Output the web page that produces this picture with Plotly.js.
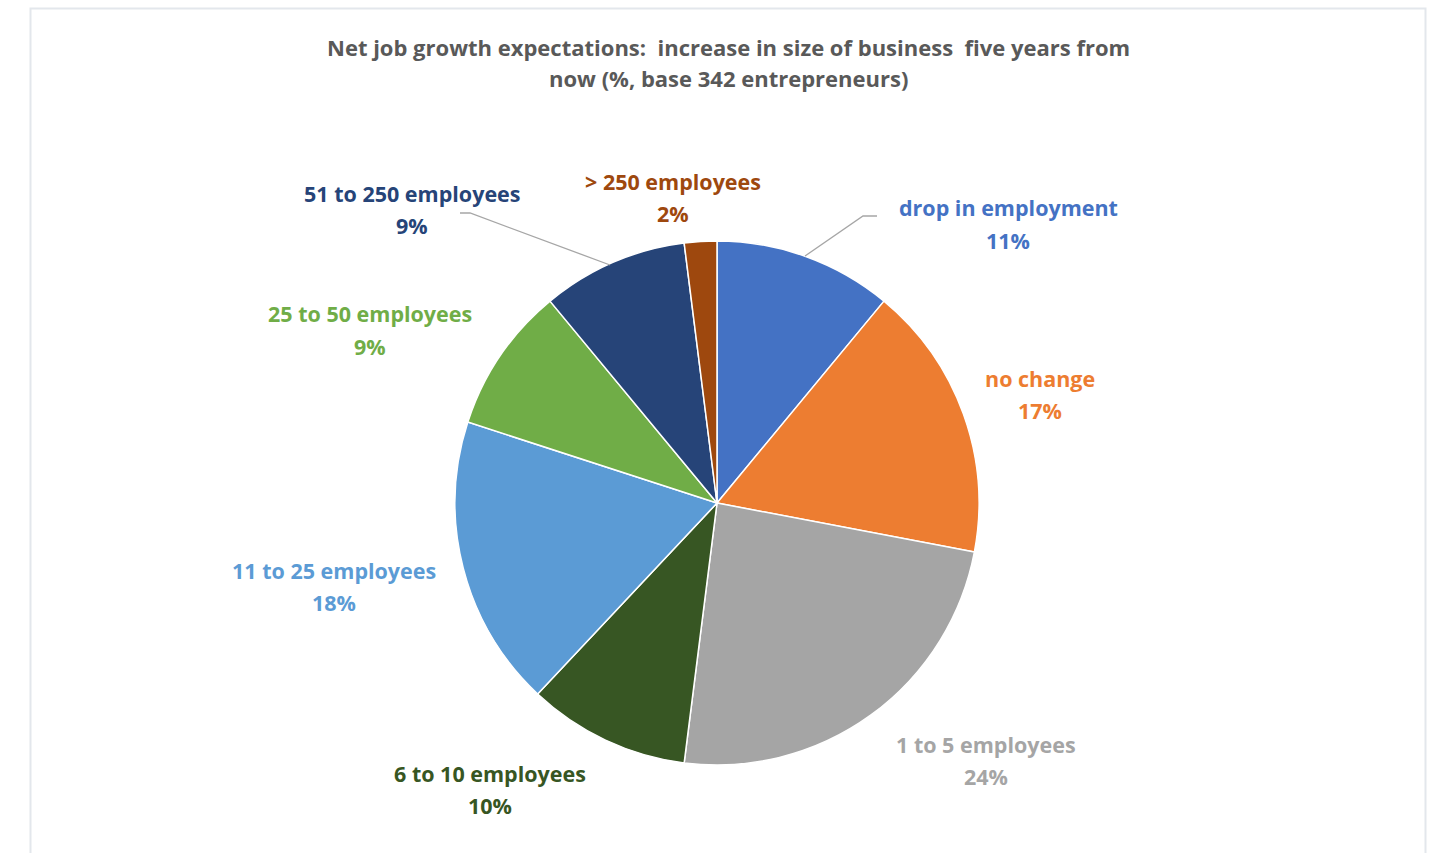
<!DOCTYPE html>
<html>
<head>
<meta charset="utf-8">
<script src="https://cdn.plot.ly/plotly-3.0.1.min.js"></script>
<style>html,body{margin:0;padding:0;background:#fff;}#chart{width:1433px;height:853px;}</style>
</head>
<body>
<div id="chart"></div>
<script>
// ---- data ----
const categories = ["drop in employment", "no change", "1 to 5 employees", "6 to 10 employees",
  "11 to 25 employees", "25 to 50 employees", "51 to 250 employees", "> 250 employees"];
const shares = [11, 17, 24, 10, 18, 9, 9, 2];
const sliceColors = ["#4472C4", "#ED7D31", "#A5A5A5", "#375623", "#5B9BD5", "#70AD47", "#264478", "#9E480E"];
const titleLines = ["Net job growth expectations:  increase in size of business  five years from",
  "now (%, base 342 entrepreneurs)"];

// ---- layout helpers (label placement, pixels) ----
const W = 1433, H = 853;
const labelPos = [[1008, 208], [1040, 378], [986, 744], [490, 773], [334, 570], [370, 314], [412, 194], [673, 181]];
const px = x => x / W, py = y => 1 - y / H;
const FONT = "'Open Sans', Lato, sans-serif";

const annotations = [];
const total = shares.reduce((a, b) => a + b, 0);
categories.forEach((c, i) => {
  const pct = Math.round(shares[i] / total * 100) + "%";
  annotations.push({xref: "paper", yref: "paper", x: px(labelPos[i][0]), y: py(labelPos[i][1]),
    xanchor: "center", yanchor: "middle", showarrow: false, text: "<b>" + c + "</b>",
    font: {family: FONT, size: 21.5, color: sliceColors[i]}});
  annotations.push({xref: "paper", yref: "paper", x: px(labelPos[i][0]), y: py(labelPos[i][1] + 32),
    xanchor: "center", yanchor: "middle", showarrow: false, text: "<b>" + pct + "</b>",
    font: {family: FONT, size: 21.5, color: sliceColors[i]}});
});
annotations.push({xref: "paper", yref: "paper", x: px(728), y: py(47), xanchor: "center", yanchor: "middle",
  showarrow: false, text: "<b>" + titleLines[0] + "</b>", font: {family: FONT, size: 22, color: "#595959"}});
annotations.push({xref: "paper", yref: "paper", x: px(728), y: py(78), xanchor: "center", yanchor: "middle",
  showarrow: false, text: "<b>" + titleLines[1] + "</b>", font: {family: FONT, size: 22, color: "#595959"}});

const leader = pts => "M " + pts.map(p => px(p[0]) + "," + py(p[1])).join(" L ");
const shapes = [
  {type: "rect", xref: "paper", yref: "paper", x0: px(30.5), x1: px(1425.5), y0: py(900), y1: py(8.5),
   line: {color: "#E3E7EC", width: 2}, fillcolor: "rgba(0,0,0,0)"},
  {type: "path", xref: "paper", yref: "paper", path: leader([[805, 256], [863, 216], [877, 216]]),
   line: {color: "#A6A6A6", width: 1.3}},
  {type: "path", xref: "paper", yref: "paper", path: leader([[460, 213], [470, 213], [610, 265]]),
   line: {color: "#A6A6A6", width: 1.3}}
];

const trace = {
  type: "pie", labels: categories, values: shares, sort: false, direction: "clockwise", rotation: 0,
  marker: {colors: sliceColors, line: {color: "#FFFFFF", width: 1.5}},
  textinfo: "none", hoverinfo: "label+percent",
  domain: {x: [px(455), px(979)], y: [py(765), py(241)]}
};

Plotly.newPlot("chart", [trace], {
  width: W, height: H, margin: {l: 0, r: 0, t: 0, b: 0},
  paper_bgcolor: "#FFFFFF", showlegend: false,
  annotations: annotations, shapes: shapes
}, {displayModeBar: false, staticPlot: true});
</script>
</body>
</html>
